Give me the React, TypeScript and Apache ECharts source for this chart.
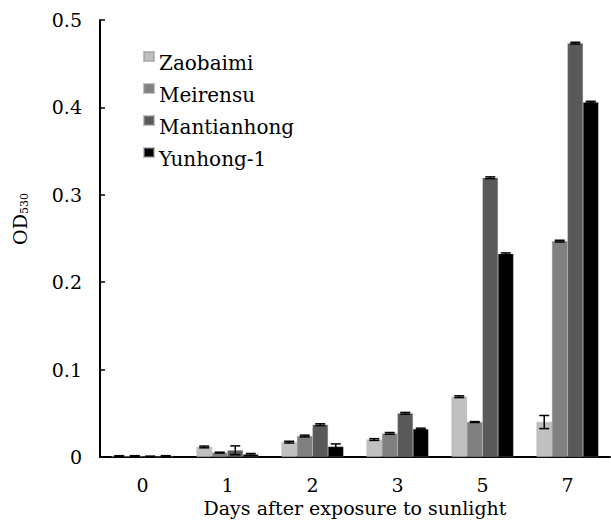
import React, { useEffect, useRef } from "react";
import * as echarts from "echarts";

const categories = ["0", "1", "2", "3", "5", "7"];
const seriesNames = ["Zaobaimi", "Meirensu", "Mantianhong", "Yunhong-1"];
const seriesColors = ["#c0c0c0", "#808080", "#595959", "#000000"];
const zaobaimi = [0.001, 0.0115, 0.017, 0.02, 0.069, 0.04];
const meirensu = [0.001, 0.005, 0.024, 0.027, 0.04, 0.247];
const mantianhong = [0.0005, 0.0077, 0.037, 0.05, 0.3195, 0.4735];
const yunhong = [0.001, 0.003, 0.012, 0.032, 0.2325, 0.406];
const zaobaimiErr = [0.0005, 0.001, 0.001, 0.001, 0.001, 0.0075];
const meirensuErr = [0.0005, 0.0005, 0.001, 0.001, 0.0005, 0.001];
const mantianhongErr = [0.0005, 0.005, 0.001, 0.001, 0.001, 0.001];
const yunhongErr = [0.0005, 0.001, 0.003, 0.001, 0.001, 0.001];
const yTicks = [0, 0.1, 0.2, 0.3, 0.4, 0.5];

const FONT = "'DejaVu Serif', serif";
const GAP = 0.27;

export default function App() {
  const ref = useRef<HTMLDivElement>(null);
  useEffect(() => {
    if (!ref.current) return;
    const chart = echarts.init(ref.current, undefined, { renderer: "svg" });
    const values = [zaobaimi, meirensu, mantianhong, yunhong];
    const errs = [zaobaimiErr, meirensuErr, mantianhongErr, yunhongErr];
    const errData: number[][] = [];
    values.forEach((arr, si) => {
      arr.forEach((v, ci) => {
        errData.push([ci, v, errs[si][ci], si]);
      });
    });
    const barSeries = seriesNames.map((name, i) => ({
      name,
      type: "bar",
      data: values[i],
      barGap: "0%",
      barCategoryGap: GAP * 100 + "%",
      itemStyle: { color: seriesColors[i], borderColor: "rgba(150,150,150,0.6)", borderWidth: 0.5 },
    }));
    chart.setOption({
      animation: false,
      textStyle: { fontFamily: FONT },
      grid: { left: 100, right: 1, top: 20, bottom: 71 },
      legend: {
        data: seriesNames,
        orient: "vertical",
        left: 138,
        top: 35,
        itemWidth: 10,
        itemHeight: 9,
        itemGap: -1,
        icon: "rect",
        formatter: "{t|{name}}",
        textStyle: {
          fontFamily: FONT,
          fontSize: 20,
          color: "#000",
          rich: {
            t: { fontFamily: FONT, fontSize: 20, color: "#000", lineHeight: 20, padding: [13, 0, 0, 0] },
          },
        },
      },
      xAxis: {
        type: "category",
        data: categories,
        axisLine: { lineStyle: { color: "#000", width: 2 } },
        axisTick: { inside: true, length: 5, lineStyle: { color: "#000", width: 1.5 } },
        axisLabel: { fontFamily: FONT, fontSize: 19, color: "#000", margin: 18 },
        name: "Days after exposure to sunlight",
        nameLocation: "middle",
        nameGap: 37,
        nameTextStyle: { fontFamily: FONT, fontSize: 19, color: "#000" },
      },
      yAxis: {
        type: "value",
        min: yTicks[0],
        max: yTicks[yTicks.length - 1],
        interval: 0.1,
        splitLine: { show: false },
        axisLine: { show: true, lineStyle: { color: "#000", width: 2 } },
        axisTick: { show: true, inside: true, length: 5, lineStyle: { color: "#000", width: 1.5 } },
        axisLabel: { fontFamily: FONT, fontSize: 19, color: "#000", margin: 18 },
      },
      graphic: [
        {
          type: "text",
          x: 20,
          y: 219,
          rotation: Math.PI / 2,
          style: {
            text: "OD{sub|530}",
            fontFamily: FONT,
            fontSize: 19,
            fill: "#000",
            align: "center",
            verticalAlign: "middle",
            rich: {
              sub: { fontFamily: FONT, fontSize: 11, padding: [9, 0, 0, 0], fill: "#000" },
            },
          },
        },
      ],
      series: [
        ...barSeries,
        {
          type: "custom",
          data: errData,
          encode: { x: 0, y: 1 },
          z: 10,
          renderItem: (params: any, api: any) => {
            const ci = api.value(0);
            const v = api.value(1);
            const e = api.value(2);
            const si = api.value(3);
            const band = api.size([1, 0])[0];
            const groupW = band * (1 - GAP);
            const barW = groupW / 4;
            const c = api.coord([ci, v]);
            const x = c[0] - groupW / 2 + barW * (si + 0.5);
            const top = api.coord([ci, v + e])[1];
            const bot = api.coord([ci, Math.max(0, v - e)])[1];
            const hw = 5;
            const st = { stroke: "#000", lineWidth: 1.5 };
            return {
              type: "group",
              children: [
                { type: "line", shape: { x1: x, y1: top, x2: x, y2: bot }, style: st },
                { type: "line", shape: { x1: x - hw, y1: top, x2: x + hw, y2: top }, style: st },
                { type: "line", shape: { x1: x - hw, y1: bot, x2: x + hw, y2: bot }, style: st },
              ],
            };
          },
        },
      ],
    });
    return () => chart.dispose();
  }, []);
  return (
    <div
      ref={ref}
      style={{ position: "fixed", left: 0, top: 0, width: 611, height: 528, background: "#fff" }}
    />
  );
}
